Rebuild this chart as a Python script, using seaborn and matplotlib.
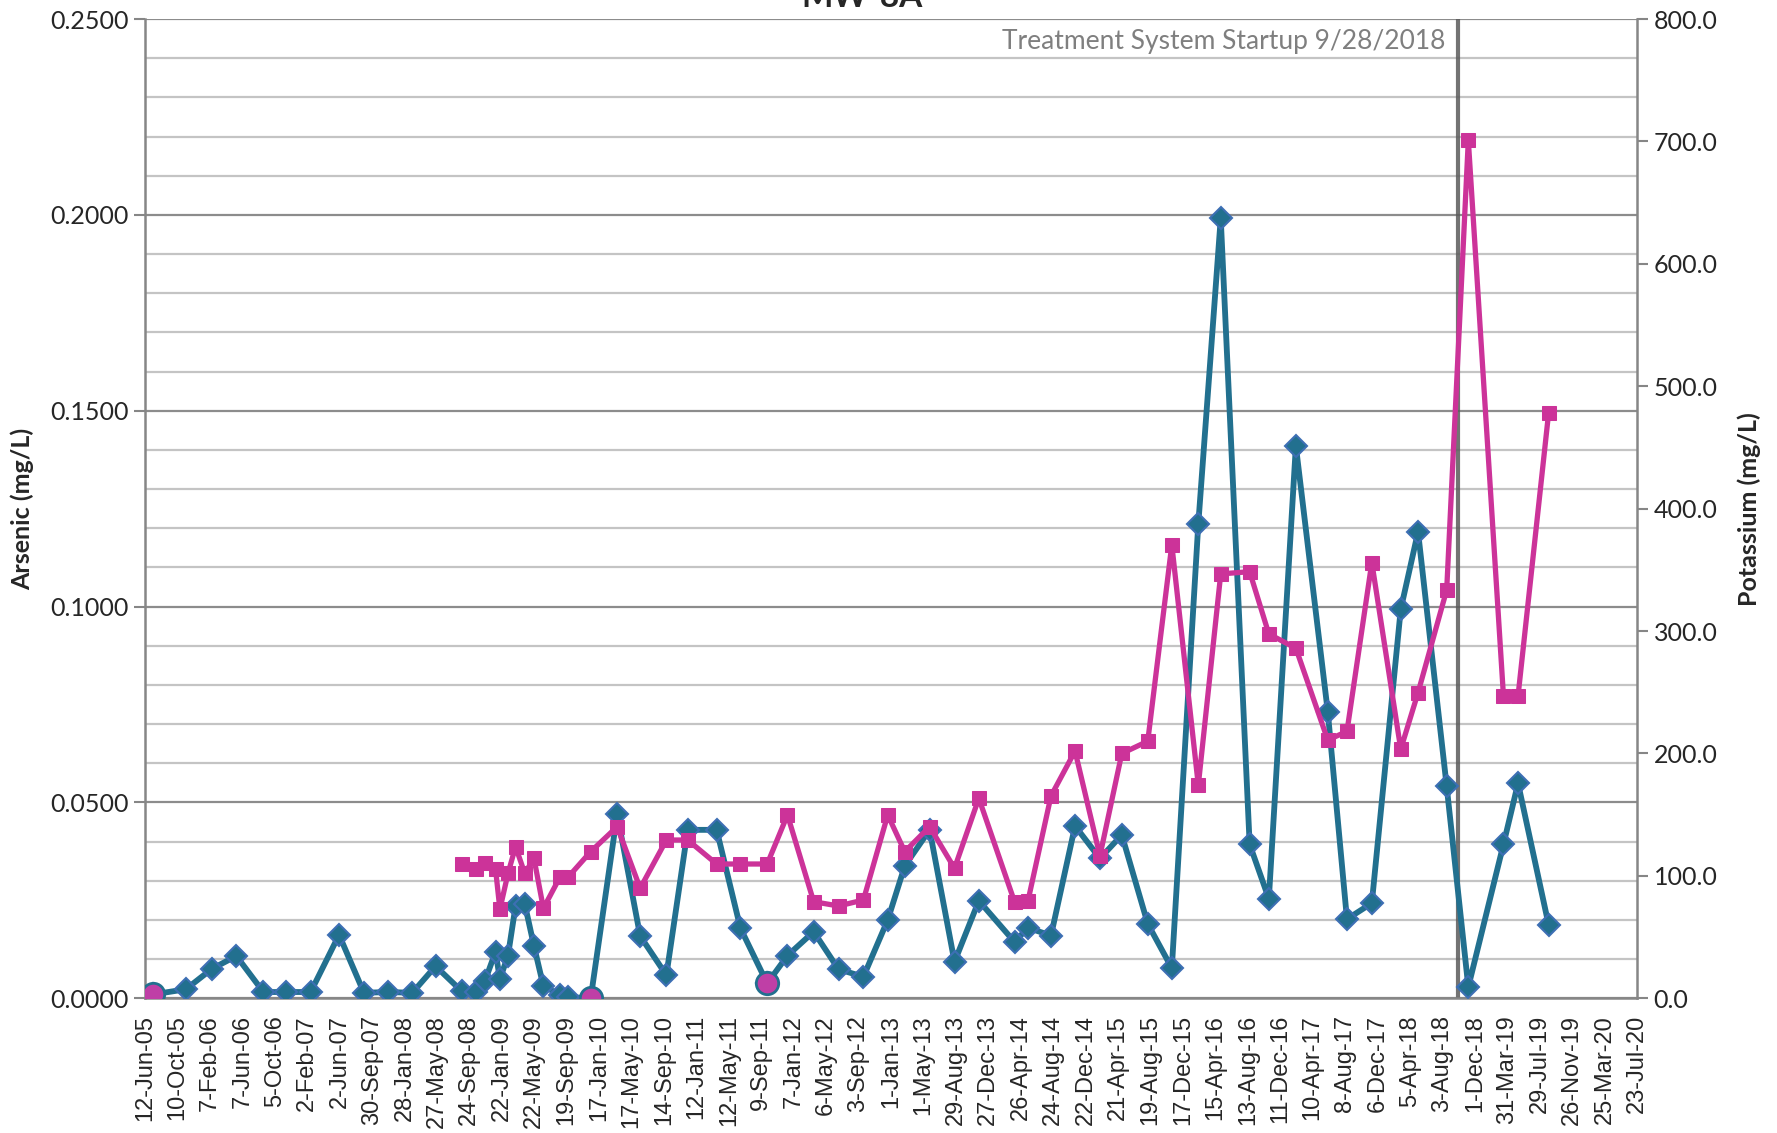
import matplotlib
matplotlib.use("Agg")
import matplotlib.pyplot as plt
import matplotlib.ticker as mticker
import seaborn as sns
import numpy as np
import pandas as pd

# sample dates (MW-8A)
sample_dates = [
    "2005-07-13", "2005-11-10", "2006-02-14", "2006-05-16", "2006-08-24", "2006-11-14",
    "2007-02-15", "2007-05-31", "2007-08-31", "2007-11-29", "2008-02-26", "2008-05-22",
    "2008-08-27", "2008-10-17", "2008-11-20", "2008-12-30", "2009-01-15", "2009-02-14",
    "2009-03-14", "2009-04-17", "2009-05-21", "2009-06-25", "2009-08-25", "2009-09-24",
    "2009-12-17", "2010-03-25", "2010-06-18", "2010-09-23", "2010-12-11", "2011-03-28",
    "2011-06-24", "2011-10-01", "2011-12-15", "2012-03-21", "2012-06-21", "2012-09-21",
    "2012-12-20", "2013-02-21", "2013-05-24", "2013-08-24", "2013-11-22", "2014-04-03",
    "2014-05-23", "2014-08-16", "2014-11-13", "2015-02-13", "2015-05-05", "2015-08-09",
    "2015-11-06", "2016-02-12", "2016-05-05", "2016-08-20", "2016-10-30", "2017-02-07",
    "2017-06-05", "2017-08-15", "2017-11-15", "2018-03-02", "2018-05-05", "2018-08-19",
    "2018-11-07", "2019-03-17", "2019-05-10", "2019-08-31",
]

arsenic = [
    0.0010, 0.0023, 0.0075, 0.0108, 0.0016, 0.0016,
    0.0016, 0.0162, 0.0014, 0.0016, 0.0014, 0.0082,
    0.0018, 0.0015, 0.0043, 0.0119, 0.0049, 0.0109,
    0.0236, 0.0241, 0.0134, 0.0031, 0.0009, 0.0003,
    0.0000, 0.0470, 0.0159, 0.0059, 0.0430, 0.0430,
    0.0179, 0.0038, 0.0109, 0.0170, 0.0074, 0.0055,
    0.0200, 0.0338, 0.0430, 0.0093, 0.0249, 0.0144,
    0.0180, 0.0160, 0.0440, 0.0357, 0.0417, 0.0190,
    0.0077, 0.1211, 0.1991, 0.0393, 0.0254, 0.1410,
    0.0732, 0.0202, 0.0243, 0.0993, 0.1191, 0.0541,
    0.0029, 0.0393, 0.0549, 0.0188,
]

potassium = [
    None, None, None, None, None, None,
    None, None, None, None, None, None,
    109.7, 105.4, 110.3, 105.4, 72.7, 102.0,
    123.9, 102.0, 114.4, 73.5, 98.9, 98.9,
    119.8, 140.2, 89.9, 129.3, 129.3, 109.7,
    109.7, 109.7, 149.8, 78.9, 75.4, 80.3,
    149.8, 119.8, 140.2, 106.2, 163.4, 78.9,
    79.7, 165.3, 202.0, 116.3, 200.0, 210.0,
    370.5, 174.0, 346.7, 348.5, 297.6, 286.0,
    211.0, 218.0, 356.0, 203.5, 249.7, 333.6,
    701.0, 247.0, 247.0, 478.0,
]

# non-detect results shown as circles
nondetect_dates = ["2005-07-13", "2009-12-17", "2011-10-01"]

startup_date = "2018-09-28"
startup_label = "Treatment System Startup 9/28/2018"
title = "MW-8A"

df = pd.DataFrame({
    "date": pd.to_datetime(sample_dates),
    "arsenic": arsenic,
    "potassium": pd.to_numeric(pd.Series(potassium), errors="coerce"),
})
nd = df[df["date"].isin(pd.to_datetime(nondetect_dates))]
k = df.dropna(subset=["potassium"])

sns.set_style("white")
plt.rcParams["font.family"] = ["Lato", "DejaVu Sans"]

teal = "#22708f"
teal_edge = "#3d6fb4"
pink = "#cc3399"
grey = "#868686"

fig = plt.figure(figsize=(17.77, 11.33), dpi=100)
ax = fig.add_axes([0.0816, 0.1189, 0.8396, 0.8643])
ax2 = ax.twinx()

sns.lineplot(data=df, x="date", y="arsenic", ax=ax, color=teal, linewidth=4.2,
             marker="D", markersize=11, markerfacecolor=teal,
             markeredgecolor=teal_edge, markeredgewidth=1.5, zorder=3)
sns.scatterplot(data=nd, x="date", y="arsenic", ax=ax, s=260, color="#bf3fa6",
                edgecolor=teal, linewidth=2, zorder=4)
sns.lineplot(data=k, x="date", y="potassium", ax=ax2, color=pink, linewidth=3.8,
             marker="s", markersize=10, markerfacecolor=pink,
             markeredgecolor=pink, zorder=3)

ax.axvline(pd.Timestamp(startup_date), color="#5a5a5a", lw=3, alpha=0.85, zorder=2)

# axes ranges
ticks = pd.date_range("2005-06-12", "2020-07-23", freq="120D")
ax.set_xlim(ticks[0], ticks[-1])
ax.set_ylim(0, 0.25)
ax2.set_ylim(0, 800)

ax.set_xticks(ticks)
ax.set_xticklabels([f"{d.day}-{d.strftime('%b-%y')}" for d in ticks],
                   rotation=90, fontsize=17, family="Liberation Sans")
ax.yaxis.set_major_locator(mticker.MultipleLocator(0.05))
ax.yaxis.set_minor_locator(mticker.MultipleLocator(0.01))
ax.yaxis.set_major_formatter(mticker.FormatStrFormatter("%.4f"))
ax2.yaxis.set_major_locator(mticker.MultipleLocator(100))
ax2.yaxis.set_major_formatter(mticker.FormatStrFormatter("%.1f"))

ax.grid(True, which="major", axis="y", color="#8c8c8c", lw=1.6)
ax.grid(True, which="minor", axis="y", color="#c4c4c4", lw=1.6)
ax.set_axisbelow(True)

ax.tick_params(axis="x", direction="out", length=8, width=1.5, color=grey, pad=4)
ax.tick_params(axis="y", which="major", direction="out", length=8, width=1.5,
               color=grey, labelsize=18, pad=4)
ax.tick_params(axis="y", which="minor", length=0)
ax2.tick_params(axis="y", direction="out", length=8, width=1.5, color=grey,
                labelsize=18, pad=4)

for name, sp in ax.spines.items():
    sp.set_color(grey)
    sp.set_linewidth(1.8)
ax.spines["top"].set_visible(False)
ax.spines["right"].set_visible(False)
for name, sp in ax2.spines.items():
    sp.set_visible(name == "right")
    sp.set_color(grey)
    sp.set_linewidth(1.8)

ax.set_xlabel("")
ax.set_ylabel("Arsenic (mg/L)", fontsize=18, fontweight="bold")
ax2.set_ylabel("Potassium (mg/L)", fontsize=18, fontweight="bold")
ax.yaxis.set_label_coords(-0.0744, 0.5)
ax2.yaxis.set_label_coords(1.0676, 0.5)

ax.text(0.8713, 0.9775, startup_label, transform=ax.transAxes, ha="right",
        va="center", fontsize=19, color="#7f7f7f")
fig.text(0.485, 0.9938, title, ha="center", va="baseline", fontsize=24,
         fontweight="bold")

fig.savefig("out.png", dpi=100)
